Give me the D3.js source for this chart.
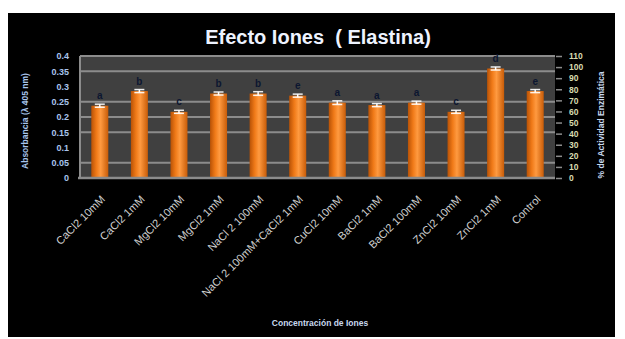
<!DOCTYPE html>
<html><head><meta charset="utf-8">
<script src="https://cdn.jsdelivr.net/npm/d3@7"></script>
<style>html,body{margin:0;padding:0;background:#fff;}svg{display:block;}</style>
</head><body>
<svg id="chart" width="625" height="339"></svg>
<script>
const categories = ["CaCl2 10mM","CaCl2 1mM","MgCl2 10mM","MgCl2 1mM","NaCl 2 100mM","NaCl 2 100mM+CaCl2 1mM","CuCl2 10mM","BaCl2 1mM","BaCl2 100mM","ZnCl2 10mM","ZnCl2 1mM","Control"];
const values = [0.237,0.285,0.217,0.277,0.277,0.270,0.247,0.239,0.247,0.217,0.359,0.285];
const errors = [0.005,0.005,0.005,0.005,0.006,0.005,0.006,0.005,0.005,0.005,0.005,0.005];
const letters = ["a","b","c","b","b","e","a","a","a","c","d","e"];
const leftTicks = [0,0.05,0.1,0.15,0.2,0.25,0.3,0.35,0.4];
const leftTickLabels = ["0","0.05","0.1","0.15","0.2","0.25","0.3","0.35","0.4"];
const gridValues = [0.05,0.15,0.2,0.25,0.35,0.4];
const rightTicks = [0,10,20,30,40,50,60,70,80,90,100,110];
const title = "Efecto Iones  ( Elastina)";
const xTitle = "Concentración de Iones";
const yTitle = "Absorbancia (λ 405 nm)";
const y2Title = "% de Actividad Enzimática";

(function(){
const svg = d3.select("#chart");
svg.append("rect").attr("x",8).attr("y",13).attr("width",607).attr("height",324).attr("fill","#000");

const pl = 80, pr = 555, pt = 56, pb = 178;
const x = d3.scaleBand().domain(categories).range([pl,pr]).paddingInner(0.57).paddingOuter(0.285);
const y = d3.scaleLinear().domain([0,0.4]).range([pb,pt]);
const y2 = d3.scaleLinear().domain([0,110]).range([pb,pt]);

const defs = svg.append("defs");
const g = defs.append("linearGradient").attr("id","barg").attr("x1","0").attr("x2","1").attr("y1","0").attr("y2","0");
g.append("stop").attr("offset","0%").attr("stop-color","#b85206");
g.append("stop").attr("offset","30%").attr("stop-color","#f07a18");
g.append("stop").attr("offset","55%").attr("stop-color","#ff9a40");
g.append("stop").attr("offset","100%").attr("stop-color","#c85c08");

svg.append("rect").attr("x",pl).attr("y",pt).attr("width",pr-pl).attr("height",pb-pt).attr("fill","#404040");

svg.append("g").selectAll("line").data(gridValues).join("line")
  .attr("x1",pl).attr("x2",pr).attr("y1",d=>y(d)).attr("y2",d=>y(d))
  .attr("stroke","#8c8c8c").attr("stroke-width",2);

svg.append("line").attr("x1",pl).attr("x2",pl).attr("y1",pt).attr("y2",pb).attr("stroke","#8c8c8c").attr("stroke-width",2);

svg.append("g").selectAll("rect").data(values).join("rect")
  .attr("x",(d,i)=>x(categories[i])).attr("width",x.bandwidth())
  .attr("y",d=>y(d)).attr("height",d=>pb-y(d)).attr("fill","url(#barg)");

const eb = svg.append("g");
values.forEach((v,i)=>{
  const cx = x(categories[i]) + x.bandwidth()/2;
  eb.append("line").attr("x1",cx).attr("x2",cx).attr("y1",y(v+errors[i])).attr("y2",y(v-errors[i])).attr("stroke","#fff").attr("stroke-width",1.5);
  [v+errors[i], v-errors[i]].forEach(e=>{
    eb.append("line").attr("x1",cx-5).attr("x2",cx+5).attr("y1",y(e)).attr("y2",y(e)).attr("stroke","#fff").attr("stroke-width",1.5).attr("opacity",0.9);
  });
});

svg.append("g").selectAll("text").data(letters).join("text")
  .attr("x",(d,i)=>x(categories[i])+x.bandwidth()/2)
  .attr("y",(d,i)=>y(values[i]+errors[i])-5)
  .attr("text-anchor","middle").attr("font-family","Liberation Sans, sans-serif").attr("font-size",10).attr("font-weight","bold")
  .attr("fill","#0c1630").text(d=>d);

svg.append("line").attr("x1",pl-2).attr("x2",pr).attr("y1",pb).attr("y2",pb).attr("stroke","#8c8c8c").attr("stroke-width",2.5);

const yAxis = d3.axisLeft(y).tickValues(leftTicks).tickFormat((d,i)=>leftTickLabels[i]).tickSize(0).tickPadding(11);
const ya = svg.append("g").attr("transform",`translate(${pl},0)`).call(yAxis);
ya.select(".domain").remove();
ya.selectAll("text").attr("fill","#a8c4ec").attr("font-family","Liberation Sans, sans-serif").attr("font-size",9).attr("font-weight","bold");

const y2Axis = d3.axisRight(y2).tickValues(rightTicks).tickSize(6).tickPadding(7);
const ya2 = svg.append("g").attr("transform",`translate(${pr+1},0)`).call(y2Axis);
ya2.select(".domain").remove();
ya2.selectAll("line").attr("stroke","#8c8c8c").attr("stroke-width",1.5);
ya2.selectAll("text").attr("fill","#d8dcb0").attr("font-family","Liberation Sans, sans-serif").attr("font-size",8.5).attr("font-weight","bold");

svg.append("g").selectAll("text").data(categories).join("text")
  .attr("transform",d=>`translate(${x(d)+x.bandwidth()/2+6},${pb+22}) rotate(-45)`)
  .attr("text-anchor","end").attr("font-family","Liberation Sans, sans-serif").attr("font-size",11)
  .attr("fill","#cfcfcf").text(d=>d);

svg.append("text").attr("x",318).attr("y",44).attr("text-anchor","middle").style("white-space","pre")
  .attr("font-family","Liberation Sans, sans-serif").attr("font-weight","bold").attr("font-size",20)
  .attr("fill","#eef3ff").text(title);
svg.append("text").attr("x",320).attr("y",326).attr("text-anchor","middle")
  .attr("font-family","Liberation Sans, sans-serif").attr("font-weight","bold").attr("font-size",8.5)
  .attr("fill","#c8d8ee").text(xTitle);
svg.append("text").attr("transform",`translate(28,${(pt+pb)/2+4}) rotate(-90)`).attr("text-anchor","middle")
  .attr("font-family","Liberation Sans, sans-serif").attr("font-weight","bold").attr("font-size",8.5)
  .attr("fill","#a8c4ec").text(yTitle);
svg.append("text").attr("transform",`translate(604,${(pt+pb)/2+8}) rotate(-90)`).attr("text-anchor","middle")
  .attr("font-family","Liberation Sans, sans-serif").attr("font-weight","bold").attr("font-size",8.5)
  .attr("fill","#c8d8ee").text(y2Title);
})();
</script>
</body></html>
